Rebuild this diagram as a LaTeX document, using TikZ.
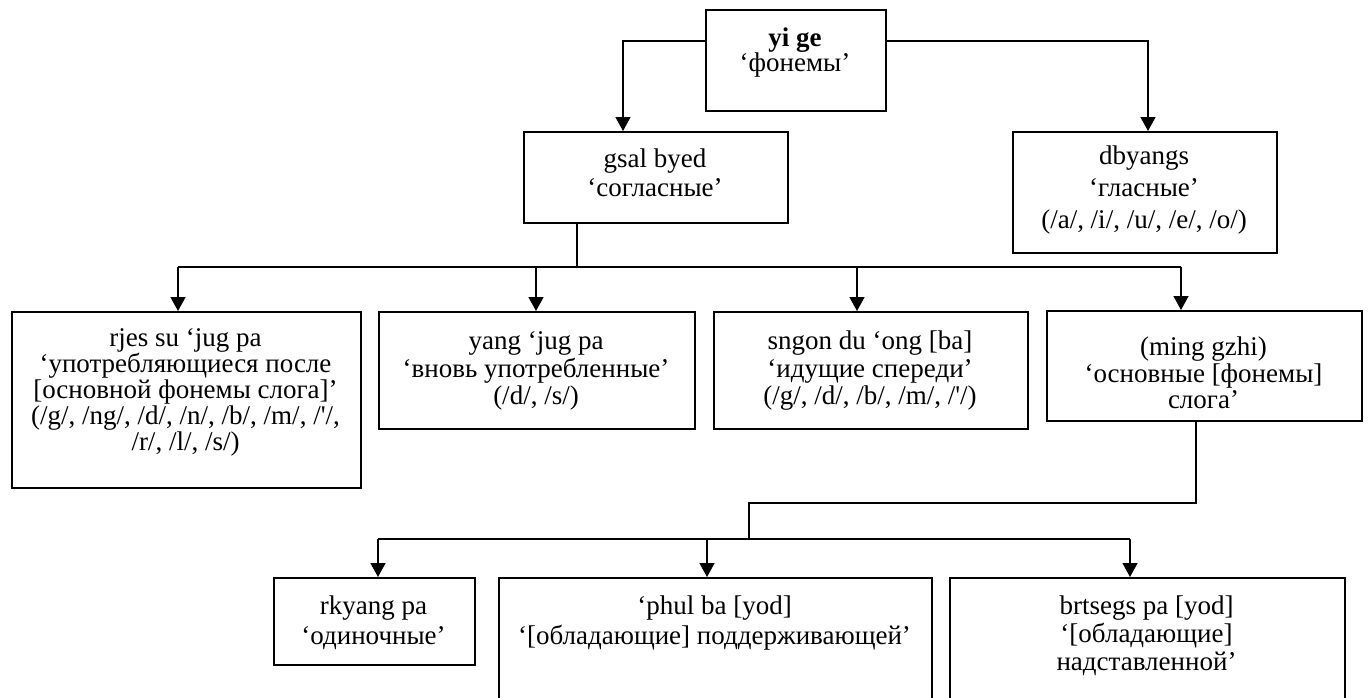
\documentclass[tikz,border=0pt]{standalone}
\usepackage{fontspec}
\setmainfont{Liberation Serif}[Ligatures=TeXOff]
\usetikzlibrary{arrows.meta}
\begin{document}
\begin{tikzpicture}[x=1pt,y=-1pt,
  box/.style={draw,line width=1.8pt,anchor=north west,inner sep=0pt},
  txt/.style={align=center,font=\fontsize{27}{#1}\selectfont,inner sep=0pt},
  conn/.style={line width=1.4pt},
  arr/.style={conn,-{Triangle[width=15pt,length=14pt]}}]
\useasboundingbox (0,0) rectangle (1368,697);
% boxes
\node[box,minimum width=180pt,minimum height=101pt] (top) at (705,9) {};
\node[box,minimum width=264pt,minimum height=91pt] (gsal) at (523,131) {};
\node[box,minimum width=264pt,minimum height=121pt] (dby) at (1012,131) {};
\node[box,minimum width=349pt,minimum height=176pt] (rjes) at (11,311) {};
\node[box,minimum width=316pt,minimum height=117pt] (yang) at (378,311) {};
\node[box,minimum width=314pt,minimum height=117pt] (sngon) at (713,311) {};
\node[box,minimum width=315pt,minimum height=110pt] (ming) at (1046,310) {};
\node[box,minimum width=201pt,minimum height=87pt] (rky) at (273,577) {};
\node[box,minimum width=433pt,minimum height=140pt] (phul) at (498,577) {};
\node[box,minimum width=395pt,minimum height=140pt] (brt) at (949,577) {};
% texts
\node[txt=25] (topT) at (795,53) {\textbf{yi ge}\\‘фонемы’};
\node[txt=29] (gsalT) at (655,173) {gsal byed\\‘согласные’};
\node[txt=32] (dbyT) at (1144,190) {dbyangs\\‘гласные’\\(/a/, /i/, /u/, /e/, /o/)};
\node[txt=26] (rjesT) at (185.5,392) {rjes su ‘jug pa\\‘употребляющиеся после\\{[основной фонемы слога]’}\\(/g/, /ng/, /d/, /n/, /b/, /m/, /'/,\\/r/, /l/, /s/)};
\node[txt=27.5] (yangT) at (536,371) {yang ‘jug pa\\‘вновь употребленные’\\(/d/, /s/)};
\node[txt=27.5] (sngonT) at (870,371) {sngon du ‘ong [ba]\\‘идущие спереди’\\(/g/, /d/, /b/, /m/, /'/)};
\node[txt=26.5] (mingT) at (1203.5,373) {(ming gzhi)\\‘основные [фонемы]\\слога’};
\node[txt=30] (rkyT) at (373.5,623) {rkyang pa\\‘одиночные’};
\node[txt=30] (phulT) at (714.5,623) {‘phul ba [yod]\\‘[обладающие] поддерживающей’};
\node[txt=28] (brtT) at (1146.5,636) {brtsegs pa [yod]\\‘[обладающие]\\надставленной’};
% connectors
\coordinate (tl) at (623,41);
\coordinate (tr) at (1148,41);
\draw[arr] (top.west |- tl) -| (gsal.north -| tl);
\draw[arr] (top.east |- tr) -| (dby.north -| tr);
\coordinate (g1) at (577,267);
\coordinate (h1) at (178,267);
\coordinate (h2) at (536,267);
\coordinate (h3) at (857,267);
\coordinate (h4) at (1181,267);
\draw[conn] (gsal.south -| g1) -- (g1);
\draw[conn] (h1) -- (h4);
\draw[arr] (h1) -- (rjes.north -| h1);
\draw[arr] (h2) -- (yang.north -| h2);
\draw[arr] (h3) -- (sngon.north -| h3);
\draw[arr] (h4) -- (ming.north -| h4);
\coordinate (m1) at (1196,503);
\coordinate (m2) at (749,539);
\coordinate (b1) at (378,539);
\coordinate (b2) at (707,539);
\coordinate (b3) at (1130,539);
\draw[conn] (ming.south -| m1) |- (m2 |- m1) -- (m2);
\draw[conn] (b1) -- (b3);
\draw[arr] (b1) -- (rky.north -| b1);
\draw[arr] (b2) -- (phul.north -| b2);
\draw[arr] (b3) -- (brt.north -| b3);
\end{tikzpicture}
\end{document}
